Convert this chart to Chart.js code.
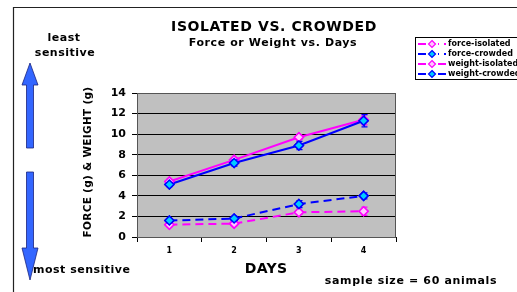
<!DOCTYPE html>
<html>
<head>
<meta charset="utf-8">
<script src="https://cdn.jsdelivr.net/npm/chart.js@4.4.1/dist/chart.umd.min.js"></script>
<style>
  html, body { margin: 0; padding: 0; background: #fff; }
  #wrap { position: relative; width: 517px; height: 292px; }
</style>
</head>
<body>
<div id="wrap"><canvas id="cv" width="517" height="292"></canvas></div>
<script>
// --- data ---
const days = ['1', '2', '3', '4'];
const forceIsolated = [1.2, 1.3, 2.4, 2.5];
const forceCrowded = [1.6, 1.8, 3.2, 4.0];
const weightIsolated = [5.4, 7.5, 9.7, 11.4];
const weightCrowded = [5.1, 7.2, 8.9, 11.3];
// error bars (+/-)
const errForceIsolated = [0.2, 0.2, 0.2, 0.4];
const errForceCrowded = [0.2, 0.2, 0.35, 0.3];
const errWeightIsolated = [0.2, 0.2, 0.2, 0.5];
const errWeightCrowded = [0.2, 0.3, 0.4, 0.6];
const yTicks = [0, 2, 4, 6, 8, 10, 12, 14];

const PINK = '#ff00ff';
const BLUE = '#0000ff';
const FONT = '"DejaVu Sans", Verdana, sans-serif';

function serie(label, data, err, color, fill, dashed, order) {
    return {
        label: label,
        data: data,
        errors: err,
        borderColor: color,
        backgroundColor: fill,
        borderWidth: 2,
        borderDash: dashed ? [8, 5] : [],
        pointStyle: 'rectRot',
        pointRadius: 4.5,
        pointBorderWidth: 1.5,
        pointBorderColor: color,
        pointBackgroundColor: fill,
        tension: 0,
        order: order
    };
}

// nền xám + khung vùng vẽ
const plotBg = {
    id: 'plotBg',
    beforeDraw(chart) {
        const { ctx, chartArea: a } = chart;
        ctx.save();
        ctx.fillStyle = '#c0c0c0';
        ctx.fillRect(a.left, a.top, a.right - a.left, a.bottom - a.top);
        ctx.restore();
    },
    afterDraw(chart) {
        const { ctx, chartArea: a } = chart;
        ctx.save();
        ctx.strokeStyle = '#555';
        ctx.lineWidth = 1;
        ctx.strokeRect(a.left + 0.5, a.top + 0.5, a.right - a.left - 1, a.bottom - a.top);
        ctx.restore();
    }
};

// error bars
const errorBars = {
    id: 'errorBars',
    afterDatasetsDraw(chart) {
        const ctx = chart.ctx;
        const y = chart.scales.y;
        chart.data.datasets.forEach((ds, i) => {
            const meta = chart.getDatasetMeta(i);
            ctx.save();
            ctx.strokeStyle = ds.borderColor;
            ctx.lineWidth = 1.2;
            meta.data.forEach((pt, j) => {
                const e = ds.errors[j];
                const y1 = y.getPixelForValue(ds.data[j] + e);
                const y2 = y.getPixelForValue(ds.data[j] - e);
                const x = Math.round(pt.x) + 0.5;
                ctx.beginPath();
                ctx.moveTo(x, y1); ctx.lineTo(x, y2);
                ctx.moveTo(x - 3, y1); ctx.lineTo(x + 3, y1);
                ctx.moveTo(x - 3, y2); ctx.lineTo(x + 3, y2);
                ctx.stroke();
            });
            ctx.restore();
            // markers on top again
            meta.data.forEach(pt => pt.draw(ctx));
        });
    }
};

function arrow(ctx, x, yShaft, yBase, yTip) {
    ctx.beginPath();
    ctx.moveTo(x - 3.5, yShaft);
    ctx.lineTo(x + 3.5, yShaft);
    ctx.lineTo(x + 3.5, yBase);
    ctx.lineTo(x + 8, yBase);
    ctx.lineTo(x, yTip);
    ctx.lineTo(x - 8, yBase);
    ctx.lineTo(x - 3.5, yBase);
    ctx.closePath();
    ctx.fill();
    ctx.stroke();
}

function text(ctx, s, x, y, size, spacing) {
    ctx.font = 'bold ' + size + 'px ' + FONT;
    ctx.letterSpacing = spacing + 'px';
    ctx.fillText(s, x, y);
    ctx.letterSpacing = '0px';
}

// chữ, mũi tên, chú thích
const decor = {
    id: 'decor',
    afterDraw(chart) {
        const { ctx } = chart;
        ctx.save();
        // khung ngoài
        ctx.strokeStyle = '#222';
        ctx.lineWidth = 1.2;
        ctx.beginPath();
        ctx.moveTo(13.5, 292);
        ctx.lineTo(13.5, 7.5);
        ctx.lineTo(517, 7.5);
        ctx.stroke();

        ctx.fillStyle = '#000';
        ctx.textBaseline = 'middle';
        ctx.textAlign = 'center';
        text(ctx, 'ISOLATED VS. CROWDED', 274, 27, 14, 0.6);
        text(ctx, 'Force or Weight vs. Days', 273, 43, 11, 0.6);

        text(ctx, 'least', 64, 38, 11, 0.5);
        text(ctx, 'sensitive', 65, 53, 11, 0.5);
        ctx.textAlign = 'left';
        text(ctx, 'most sensitive', 33, 270, 11, 0.5);

        ctx.textAlign = 'center';
        text(ctx, 'DAYS', 266, 269, 14, 0.3);
        text(ctx, 'sample size = 60 animals', 411, 281, 11, 0.65);

        // tiêu đề trục y
        ctx.save();
        ctx.translate(88, 162);
        ctx.rotate(-Math.PI / 2);
        text(ctx, 'FORCE (g) & WEIGHT (g)', 0, 0, 10.5, 0.3);
        ctx.restore();

        // mũi tên
        ctx.fillStyle = '#3366ff';
        ctx.strokeStyle = '#1a237e';
        ctx.lineWidth = 0.8;
        arrow(ctx, 30, 148, 85, 63);
        arrow(ctx, 30, 172, 248, 280);

        // chú thích
        ctx.fillStyle = '#fff';
        ctx.fillRect(415, 37, 110, 43);
        ctx.strokeStyle = '#000';
        ctx.lineWidth = 1;
        ctx.strokeRect(415.5, 37.5, 110, 42);
        ctx.font = 'bold 8px ' + FONT;
        ctx.textAlign = 'left';
        chart.data.datasets.forEach((ds, k) => {
            const yy = 44 + k * 10;
            ctx.strokeStyle = ds.borderColor;
            ctx.lineWidth = 2;
            ctx.setLineDash(ds.borderDash);
            ctx.beginPath();
            ctx.moveTo(418, yy); ctx.lineTo(446, yy);
            ctx.stroke();
            ctx.setLineDash([]);
            ctx.fillStyle = '#fff';
            ctx.fillRect(426, yy - 4, 12, 8);
            ctx.fillStyle = ds.pointBackgroundColor;
            ctx.lineWidth = 1.2;
            ctx.beginPath();
            ctx.moveTo(432, yy - 3.5); ctx.lineTo(435.5, yy);
            ctx.lineTo(432, yy + 3.5); ctx.lineTo(428.5, yy);
            ctx.closePath();
            ctx.fill(); ctx.stroke();
            ctx.fillStyle = '#000';
            ctx.fillText(ds.label, 448, yy);
        });
        ctx.restore();
    }
};

new Chart(document.getElementById('cv').getContext('2d'), {
    type: 'line',
    data: {
        labels: days,
        datasets: [
            serie('force-isolated', forceIsolated, errForceIsolated, PINK, '#ffc8ff', true, 4),
            serie('force-crowded', forceCrowded, errForceCrowded, BLUE, '#00ccff', true, 3),
            serie('weight-isolated', weightIsolated, errWeightIsolated, PINK, '#ffc8ff', false, 2),
            serie('weight-crowded', weightCrowded, errWeightCrowded, BLUE, '#00ccff', false, 1)
        ]
    },
    options: {
        responsive: false,
        animation: false,
        layout: { padding: { left: 0, right: 121, top: 93, bottom: 35 } },
        plugins: {
            legend: { display: false },
            tooltip: { enabled: false }
        },
        scales: {
            x: {
                offset: true,
                grid: { offset: true, drawOnChartArea: false, color: '#000', tickLength: 5 },
                border: { color: '#000', width: 1 },
                ticks: { color: '#000', font: { family: FONT, size: 8, weight: 'bold' }, padding: 4 },
                afterFit(s) { s.height = 20; }
            },
            y: {
                min: 0,
                max: 14,
                afterBuildTicks(s) { s.ticks = yTicks.map(v => ({ value: v })); },
                grid: { color: '#000', tickLength: 5 },
                border: { color: '#000', width: 1 },
                ticks: { color: '#000', font: { family: FONT, size: 11, weight: 'bold' }, padding: 6 },
                afterFit(s) { s.width = 137; }
            }
        }
    },
    plugins: [plotBg, errorBars, decor]
});
</script>
</body>
</html>
